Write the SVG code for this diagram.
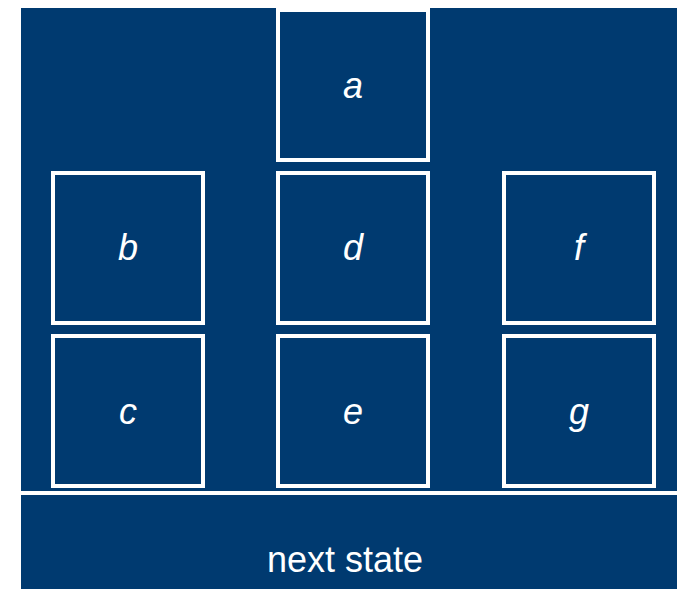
<svg xmlns="http://www.w3.org/2000/svg" width="677" height="589" viewBox="0 0 677 589">
  <style>
    .box { fill: none; stroke: #ffffff; stroke-width: 4; }
    .lbl { font-family: "Liberation Sans", Arial, sans-serif; font-size: 36px; font-style: italic; fill: #ffffff; text-anchor: middle; }
    .cap { font-family: "Liberation Sans", Arial, sans-serif; font-size: 36px; fill: #ffffff; text-anchor: middle; }
  </style>
  <rect x="0" y="0" width="677" height="589" fill="#ffffff"/>
  <rect id="background" x="21" y="8" width="656" height="581" fill="#003A70"/>
  <g id="node-a"><rect class="box" x="278" y="10" width="150" height="150"/><text class="lbl" x="353" y="98">a</text></g>
  <g id="node-b"><rect class="box" x="53" y="173" width="150" height="150"/><text class="lbl" x="128" y="260">b</text></g>
  <g id="node-d"><rect class="box" x="278" y="173" width="150" height="150"/><text class="lbl" x="353" y="260">d</text></g>
  <g id="node-f"><rect class="box" x="504" y="173" width="150" height="150"/><text class="lbl" x="579" y="260">f</text></g>
  <g id="node-c"><rect class="box" x="53" y="336" width="150" height="150"/><text class="lbl" x="128" y="424">c</text></g>
  <g id="node-e"><rect class="box" x="278" y="336" width="150" height="150"/><text class="lbl" x="353" y="424">e</text></g>
  <g id="node-g"><rect class="box" x="504" y="336" width="150" height="150"/><text class="lbl" x="579" y="424">g</text></g>
  <g id="connectors">
    <line x1="21" y1="493" x2="677" y2="493" stroke="#ffffff" stroke-width="4"/>
  </g>
  <g id="node-next-state"><text class="cap" x="345" y="572">next state</text></g>
</svg>
